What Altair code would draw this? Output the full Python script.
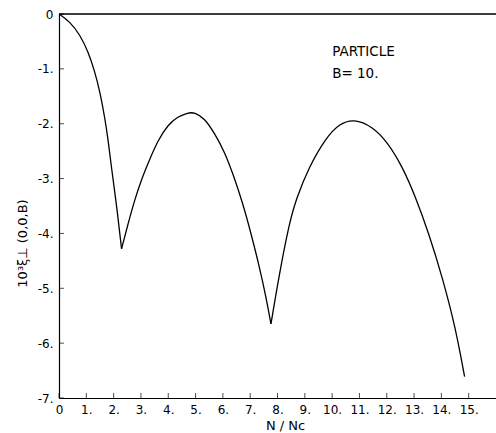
import altair as alt
import pandas as pd

# Curve, in three arcs separated by cusps
seg_a_x = [0.0, 0.40, 0.77, 1.07, 1.31, 1.50, 1.68, 1.80, 1.92, 2.10, 2.29]
seg_a_y = [0.0, -0.14, -0.38, -0.69, -1.05, -1.42, -1.90, -2.30, -2.80, -3.45, -4.28]

seg_b_x = [2.29, 2.53, 2.77, 3.01, 3.26, 3.62, 3.99, 4.35, 4.72, 4.96, 5.33, 5.69, 6.06, 6.36, 6.73, 7.03, 7.34, 7.60, 7.76]
seg_b_y = [-4.28, -3.82, -3.39, -3.03, -2.72, -2.30, -2.02, -1.87, -1.80, -1.79, -1.90, -2.17, -2.51, -2.90, -3.45, -4.00, -4.61, -5.21, -5.65]

seg_c_x = [7.76, 8.07, 8.43, 8.67, 9.16, 9.77, 10.26, 10.80, 11.47, 12.02, 12.57, 13.05, 13.54, 14.03, 14.51, 14.85]
seg_c_y = [-5.65, -4.73, -3.82, -3.39, -2.78, -2.26, -2.00, -1.91, -2.05, -2.33, -2.78, -3.33, -4.00, -4.79, -5.70, -6.61]

x_ticks = list(range(0, 16))
y_ticks = [0, -1, -2, -3, -4, -5, -6, -7]

note_text = ["PARTICLE", "B= 10."]
note_x = [10.0, 10.0]
note_y = [-0.69, -1.09]

rows = []
for name, xs, ys in (("a", seg_a_x, seg_a_y), ("b", seg_b_x, seg_b_y), ("c", seg_c_x, seg_c_y)):
    for i, (xv, yv) in enumerate(zip(xs, ys)):
        rows.append({"seg": name, "order": i, "x": xv, "y": yv})
curve_df = pd.DataFrame(rows)

xt_df = pd.DataFrame({"x": x_ticks})
yt_df = pd.DataFrame({"y": y_ticks})
note_df = pd.DataFrame({"t": note_text, "x": note_x, "y": note_y})

FONT = "DejaVu Sans"
xscale = alt.Scale(domain=[0, 16], nice=False, zero=False)
yscale = alt.Scale(domain=[-7, 0], nice=False, zero=False)

xaxis = alt.Axis(
    values=x_ticks,
    labelExpr="datum.value == 0 ? '0' : datum.value + '.'",
    labelOverlap=False, labelFlush=False, labelBound=False,
    ticks=False, grid=False, domainColor="black", domainWidth=1.2,
    labelFont=FONT, labelFontSize=12, labelColor="black", labelPadding=6,
    title="N / Nc", titleFont=FONT, titleFontSize=13, titleFontWeight="normal",
    titleColor="black", titleX=226, titleY=27.5, titleBaseline="middle",
    titleAlign="center",
)
yaxis = alt.Axis(
    values=y_ticks,
    labelExpr="datum.value == 0 ? '0' : datum.value + '.'",
    labelOverlap=False, labelFlush=False, labelBound=False,
    ticks=False, grid=False, domainColor="black", domainWidth=1.2,
    labelFont=FONT, labelFontSize=12, labelColor="black", labelPadding=6,
    title="10³ξ⊥ (0,0,B)", titleFont=FONT, titleFontSize=13, titleFontWeight="normal",
    titleColor="black", titleX=-37, titleY=229, titleAngle=270,
    titleBaseline="middle", titleAlign="center",
)

curve = alt.Chart(curve_df).mark_line(
    color="black", strokeWidth=1.3, interpolate="basis"
).encode(
    x=alt.X("x:Q", scale=xscale, axis=xaxis),
    y=alt.Y("y:Q", scale=yscale, axis=yaxis),
    detail="seg:N",
    order="order:Q",
)

top = alt.Chart(pd.DataFrame({"y": [0]})).mark_rule(color="black", strokeWidth=1.3).encode(
    y=alt.Y("y:Q", scale=yscale, axis=yaxis)
)

xticks = alt.Chart(xt_df).mark_tick(
    color="black", orient="vertical", size=5, thickness=1, yOffset=-2.5
).encode(
    x=alt.X("x:Q", scale=xscale, axis=xaxis),
    y=alt.YDatum(-7, scale=yscale, axis=yaxis),
)

yticks = alt.Chart(yt_df).mark_tick(
    color="black", orient="horizontal", size=5, thickness=1, xOffset=2.5
).encode(
    y=alt.Y("y:Q", scale=yscale, axis=yaxis),
    x=alt.XDatum(0, scale=xscale, axis=xaxis),
)

notes = alt.Chart(note_df).mark_text(
    font=FONT, fontSize=13.5, color="black", align="left", baseline="middle"
).encode(
    x=alt.X("x:Q", scale=xscale, axis=xaxis),
    y=alt.Y("y:Q", scale=yscale, axis=yaxis),
    text="t:N",
)

chart = alt.layer(curve, top, xticks, yticks, notes).properties(
    width=437, height=384,
    autosize=alt.AutoSizeParams(type="none"),
    padding={"left": 59, "top": 14, "right": 0, "bottom": 35},
).configure_view(stroke=None).configure(background="white").configure_axis(
    labelOverlap=False, labelFlush=False, labelBound=False
)

chart.save("out.html", embed_options={"renderer": "svg", "actions": False})
